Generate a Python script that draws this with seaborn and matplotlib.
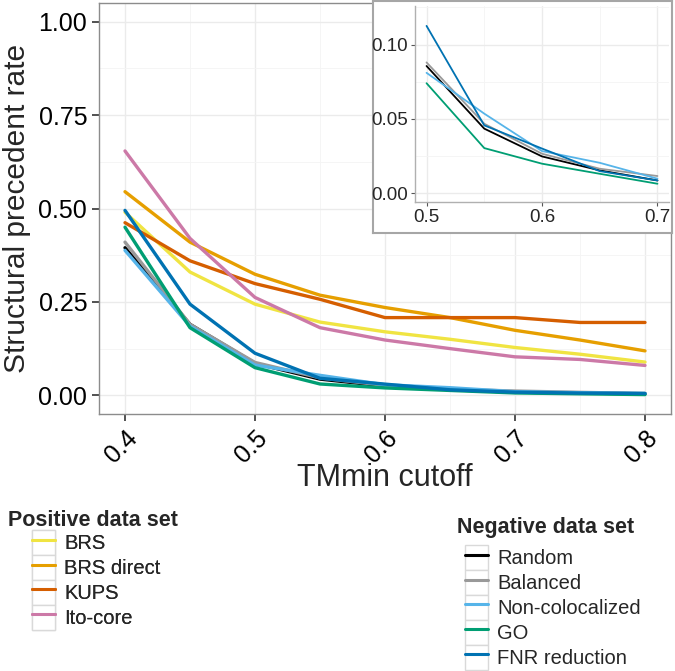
import matplotlib
matplotlib.use("Agg")
import matplotlib.pyplot as plt
import numpy as np
import pandas as pd
import seaborn as sns
from matplotlib.legend_handler import HandlerLine2D
from matplotlib.lines import Line2D
from matplotlib.patches import Rectangle
from matplotlib.ticker import MultipleLocator

sns.set_style("white")
plt.rcParams["font.family"] = ["Liberation Sans", "DejaVu Sans"]

# TMmin cutoff values
tm_cutoff = [0.40, 0.45, 0.50, 0.55, 0.60, 0.65, 0.70, 0.75, 0.80]

# positive data sets
pos_names = ["BRS", "BRS direct", "KUPS", "Ito-core"]
brs = [0.490, 0.330, 0.244, 0.196, 0.170, 0.150, 0.128, 0.110, 0.089]
brs_direct = [0.545, 0.410, 0.324, 0.268, 0.235, 0.208, 0.174, 0.148, 0.119]
kups = [0.462, 0.360, 0.299, 0.257, 0.208, 0.208, 0.208, 0.195, 0.195]
ito_core = [0.654, 0.420, 0.262, 0.181, 0.148, 0.125, 0.103, 0.096, 0.080]
pos_colors = ["#F0E442", "#E69F00", "#D55E00", "#CC79A7"]

# negative data sets
neg_names = ["Random", "Balanced", "Non-colocalized", "GO", "FNR reduction"]
random_neg = [0.395, 0.190, 0.0856, 0.0434, 0.0247, 0.0153, 0.0085, 0.006, 0.004]
balanced = [0.410, 0.190, 0.0880, 0.0467, 0.0265, 0.0164, 0.0115, 0.008, 0.005]
non_coloc = [0.388, 0.185, 0.0810, 0.0535, 0.0283, 0.0204, 0.0097, 0.007, 0.005]
go = [0.450, 0.181, 0.0740, 0.0303, 0.0198, 0.0130, 0.0063, 0.004, 0.002]
fnr_reduction = [0.495, 0.244, 0.1126, 0.0456, 0.0300, 0.0148, 0.0085, 0.006, 0.005]
neg_colors = ["#000000", "#999999", "#56B4E9", "#009E73", "#0072B2"]


def make_long(names, series, x):
    rows = []
    for name, vals in zip(names, series):
        for xv, yv in zip(x, vals):
            rows.append({"cutoff": xv, "rate": yv, "set": name})
    return pd.DataFrame(rows)


pos_df = make_long(pos_names, [brs, brs_direct, kups, ito_core], tm_cutoff)
neg_df = make_long(neg_names, [random_neg, balanced, non_coloc, go, fnr_reduction], tm_cutoff)
# inset zooms in on 0.5 - 0.7
inset_df = neg_df[neg_df["cutoff"].between(0.499, 0.701)]


def style_panel(ax, border=True):
    ax.set_facecolor("white")
    ax.grid(which="major", color="#EBEBEB", linewidth=1.0)
    ax.grid(which="minor", color="#F4F4F4", linewidth=0.6)
    ax.set_axisbelow(True)
    for s in ax.spines.values():
        s.set_visible(border)
        s.set_color("#8C8C8C")
        s.set_linewidth(1.0)
    ax.tick_params(which="major", direction="out", length=5, width=1.2,
                   color="#333333", bottom=True, left=True)
    ax.tick_params(which="minor", length=0)


fig = plt.figure(figsize=(6.75, 6.71), dpi=100)

# main panel
ax = fig.add_axes([99 / 675, 1 - 414 / 671, 572 / 675, 411 / 671])
sns.lineplot(data=pos_df, x="cutoff", y="rate", hue="set", hue_order=pos_names,
             palette=pos_colors, linewidth=2.4, legend=False, ax=ax)
sns.lineplot(data=neg_df, x="cutoff", y="rate", hue="set", hue_order=neg_names,
             palette=neg_colors, linewidth=2.4, legend=False, ax=ax)
ax.set_xlim(0.38, 0.82)
ax.set_ylim(-0.05, 1.05)
ax.xaxis.set_minor_locator(MultipleLocator(0.05))
ax.yaxis.set_minor_locator(MultipleLocator(0.125))
ax.set_xticks([0.4, 0.5, 0.6, 0.7, 0.8], ["0.4", "0.5", "0.6", "0.7", "0.8"])
ax.set_yticks([0, 0.25, 0.5, 0.75, 1.0], ["0.00", "0.25", "0.50", "0.75", "1.00"])
style_panel(ax)
for lab in ax.get_xticklabels():
    lab.set_rotation(45)
    lab.set_ha("right")
    lab.set_rotation_mode("anchor")
ax.tick_params(axis="both", labelsize=18, labelcolor="black")
ax.set_xlabel("TMmin cutoff", fontsize=22, labelpad=-3)
ax.set_ylabel("Structural precedent rate", fontsize=21.5, labelpad=5)

# inset frame
frame = fig.add_axes([373 / 675, 1 - 233 / 671, 299 / 675, 232 / 671])
frame.set_xticks([])
frame.set_yticks([])
frame.set_facecolor("white")
for s in frame.spines.values():
    s.set_color("#A6A6A6")
    s.set_linewidth(1.5)

# inset panel
ins = fig.add_axes([415 / 675, 1 - 202 / 671, 254 / 675, 196 / 671])
sns.lineplot(data=inset_df, x="cutoff", y="rate", hue="set", hue_order=neg_names,
             palette=neg_colors, linewidth=1.3, legend=False, ax=ins)
ins.set_xlim(0.49, 0.71)
ins.set_ylim(-0.006, 0.126)
ins.xaxis.set_minor_locator(MultipleLocator(0.05))
ins.yaxis.set_minor_locator(MultipleLocator(0.025))
ins.set_xticks([0.5, 0.6, 0.7], ["0.5", "0.6", "0.7"])
ins.set_yticks([0.0, 0.05, 0.10], ["0.00", "0.05", "0.10"])
style_panel(ins)
ins.spines["top"].set_visible(False)
ins.spines["right"].set_visible(False)
ins.spines["left"].set_color("#B0B0B0")
ins.spines["bottom"].set_color("#B0B0B0")
ins.tick_params(axis="both", labelsize=13.5, length=3, width=0.8, color="#555555", pad=2)
ins.set_xlabel("")
ins.set_ylabel("")


class BoxedLine(HandlerLine2D):
    # ggplot style key: line inside a light grey box
    def create_artists(self, legend, orig_handle, xdescent, ydescent,
                       width, height, fontsize, trans):
        arts = super().create_artists(legend, orig_handle, xdescent, ydescent,
                                      width, height, fontsize, trans)
        box = Rectangle((-xdescent, -ydescent), width, height, facecolor="white",
                        edgecolor="#D9D9D9", linewidth=1.0, transform=trans)
        return [box] + arts


def add_legend(names, colors, title, title_xy, anchor):
    fig.text(title_xy[0] / 675, 1 - title_xy[1] / 671, title, fontsize=15.5,
             fontweight="bold", ha="left", va="center")
    handles = [Line2D([0], [0], color=c, linewidth=2.2) for c in colors]
    leg = fig.legend(handles, names, loc="upper left",
                     bbox_to_anchor=(anchor[0] / 675, 1 - anchor[1] / 671),
                     bbox_transform=fig.transFigure,
                     frameon=False, fontsize=14.5,
                     handlelength=1.15, handleheight=1.53, labelspacing=0.0,
                     handletextpad=0.45, borderaxespad=0, borderpad=0,
                     handler_map={Line2D: BoxedLine()})
    return leg


leg1 = add_legend(pos_names, pos_colors, "Positive data set", (8, 520), (32, 530))
fig.add_artist(leg1)
add_legend(neg_names, neg_colors, "Negative data set", (457, 527), (465, 545))

fig.savefig("out.png", dpi=100)
